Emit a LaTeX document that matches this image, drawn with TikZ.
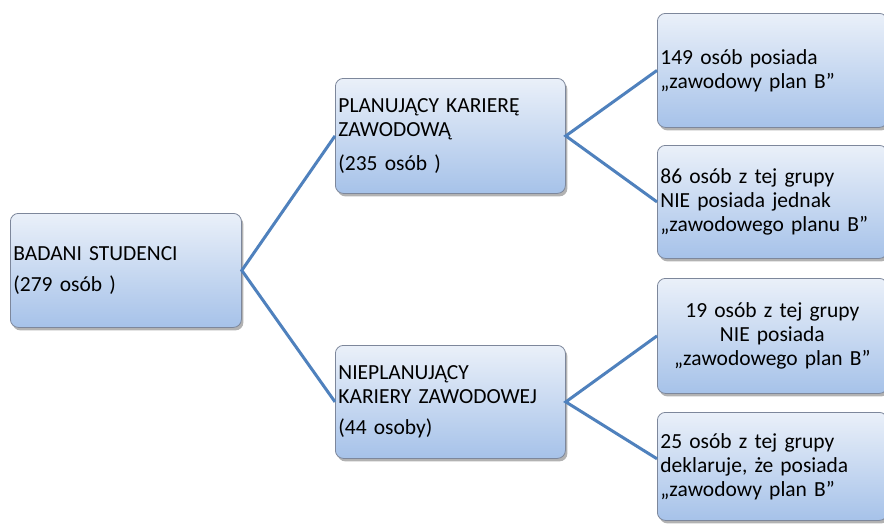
\documentclass[tikz,border=0pt]{standalone}
\usepackage{fontspec}
\setmainfont{Carlito}[WordSpace=0.8]
\usetikzlibrary{shadows,calc}
\definecolor{boxtop}{RGB}{234,240,249}
\definecolor{boxbot}{RGB}{166,194,233}
\definecolor{boxline}{RGB}{125,135,155}
\definecolor{connc}{RGB}{79,129,189}
\tikzset{
  box/.style={rectangle, rounded corners=8pt, draw=boxline, line width=0.8pt,
    top color=boxtop, bottom color=boxbot,
    drop shadow={shadow xshift=2pt, shadow yshift=-3pt, fill=black, opacity=0.3},
    anchor=north west, inner xsep=3pt, inner ysep=0pt,
    font=\fontsize{21.5}{24}\selectfont, align=left,
    minimum width=230pt, text width=224pt},
  link/.style={draw=connc, line width=3pt}
}
\begin{document}
\begin{tikzpicture}[x=1pt,y=-1pt]
\useasboundingbox (0,0) rectangle (884,525);
\clip (0,0) rectangle (884,525);
\fill[white] (0,0) rectangle (884,525);
\node[box, minimum width=231pt, text width=225pt, minimum height=114pt] (A) at (10,213)
  {BADANI STUDENCI\\[7pt](279 osób )};
\node[box, minimum height=115pt] (B) at (335,78)
  {PLANUJĄCY KARIERĘ\\ZAWODOWĄ\\[10pt](235 osób )};
\node[box, minimum height=113pt] (C) at (335,345)
  {NIEPLANUJĄCY\\KARIERY ZAWODOWEJ\\[7pt](44 osoby)};
\node[box, minimum height=114pt] (D) at (657,13)
  {149 osób posiada\\„zawodowy plan B”};
\node[box, minimum height=113pt] (E) at (657,145)
  {86 osób z tej grupy\\NIE posiada jednak\\„zawodowego planu B”};
\node[box, minimum height=115pt, align=center] (F) at (657,278)
  {19 osób z tej grupy\\NIE posiada\\„zawodowego plan B”};
\node[box, minimum height=108pt] (G) at (657,412)
  {25 osób z tej grupy\\deklaruje, że posiada\\„zawodowy plan B”};
\draw[link] (B.west) -- (A.east) -- (C.west);
\draw[link] (D.west) -- (B.east) -- (E.west);
\draw[link] (F.west) -- (C.east) -- ($(G.north west)!0.43!(G.south west)$);
\end{tikzpicture}
\end{document}
